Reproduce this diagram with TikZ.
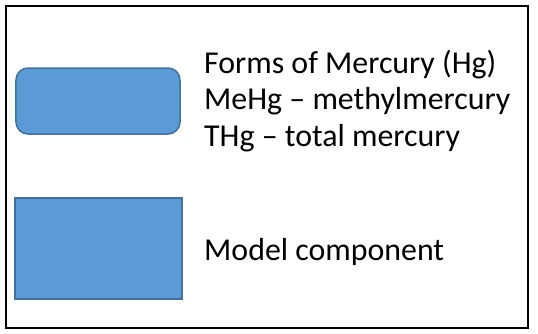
\documentclass[tikz,border=0pt]{standalone}
\usepackage{fontspec}
\setmainfont{Carlito}
\usetikzlibrary{positioning}

\definecolor{hgfill}{RGB}{91,155,213}
\definecolor{hgedge}{RGB}{65,113,156}

\tikzset{
    legendbox/.style={draw=hgedge,fill=hgfill,line width=1.5bp},
    legendtext/.style={anchor=base west,inner sep=0pt,font=\fontsize{32}{36}\selectfont},
}

\begin{document}
\begin{tikzpicture}[x=1bp,y=-1bp]
        \useasboundingbox (0,0) rectangle (538,333);

        % Frame.
        \draw[line width=2bp] (6,6) rectangle (528,328);

        % Forms of Hg.
        \node[legendbox,rounded corners=12bp,minimum width=164bp,minimum height=66bp] (formsBox) at (98,101) {};
        \node[legendtext] (formsTxt) at (204,73) {Forms of Mercury (Hg)};
        \node[legendtext] (mehgTxt) at (204,109.5) {MeHg -- methylmercury};
        \node[legendtext] (thgTxt) at (204,146) {THg -- total mercury};

        % Model component.
        \node[legendbox,minimum width=167bp,minimum height=101bp] (compBox) at (98.5,248.5) {};
        \node[legendtext] (compTxt) at (204,260) {Model component};
    \end{tikzpicture}
\end{document}
